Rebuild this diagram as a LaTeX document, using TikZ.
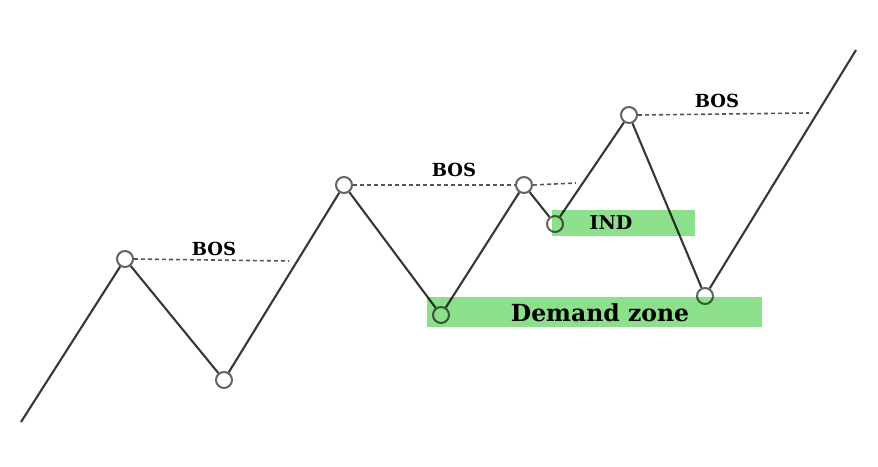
\documentclass[tikz,border=0pt]{standalone}
\usepackage{fontspec}
\setmainfont{DejaVu Serif}
\usetikzlibrary{positioning, calc}
\definecolor{legcolor}{RGB}{55, 55, 55}
\definecolor{pivotcolor}{RGB}{100, 100, 100}
\definecolor{boscolor}{RGB}{85, 85, 85}
\definecolor{zonecolor}{RGB}{140, 224, 140}

\begin{document}
\begin{tikzpicture}[
    x=1pt, y=-1pt,
    % Swing point
    pivot/.style={
        circle,
        draw=pivotcolor,
        line width=2pt,
        minimum size=16pt,
        inner sep=0pt
    },
    % Price leg
    leg/.style={
        draw=legcolor,
        line width=2.1pt
    },
    % Break of structure line
    bosline/.style={
        draw=boscolor,
        dash pattern=on 4pt off 3pt,
        line width=1.6pt
    },
    % Text over the lines
    boslabel/.style={
        font=\bfseries\fontsize{18}{18}\selectfont,
        inner sep=0pt
    },
    % Shaded zone
    zonebox/.style={
        rectangle,
        fill=zonecolor,
        draw=none,
        inner sep=0pt
    }
]

\useasboundingbox (0, 0) rectangle (878, 466);

% ============================================
% SWING POINTS
% ============================================

\coordinate (start) at (21, 422);
\node[pivot] (high1) at (125, 259) {};
\node[pivot] (low1) at (224, 380) {};
\node[pivot] (high2) at (344, 185) {};
\node[pivot] (low2) at (441, 315) {};
\node[pivot] (high3) at (524, 185) {};
\node[pivot] (low3) at (555, 224) {};
\node[pivot] (high4) at (629, 115) {};
\node[pivot] (low4) at (705, 296) {};
\coordinate (finish) at (856, 50);

% Price legs
\draw[leg] (start) -- (high1);
\draw[leg] (high1) -- (low1);
\draw[leg] (low1) -- (high2);
\draw[leg] (high2) -- (low2);
\draw[leg] (low2) -- (high3);
\draw[leg] (high3) -- (low3);
\draw[leg] (low3) -- (high4);
\draw[leg] (high4) -- (low4);
\draw[leg] (low4) -- (finish);

% ============================================
% BREAKS OF STRUCTURE
% ============================================

\coordinate (bosend1) at (289, 261);
\coordinate (bosend2) at (576, 183);
\coordinate (bosend3) at (809, 113);

\draw[bosline] (high1.east) -- (bosend1);
\draw[bosline] (high2.east) -- (high3.west);
\draw[bosline] (high3.east) -- (bosend2);
\draw[bosline] (high4.east) -- (bosend3);

\node[boslabel] (bos1) at (214, 249) {BOS};
\node[boslabel] (bos2) at (454, 170) {BOS};
\node[boslabel] (bos3) at (717, 101) {BOS};

% ============================================
% ZONES
% ============================================

\begin{scope}[blend mode=multiply]
    \node[zonebox, minimum width=335pt, minimum height=30pt] (demand) at (594.5, 312) {};
    \node[zonebox, minimum width=143pt, minimum height=26pt] (ind) at (623.5, 223) {};
\end{scope}

\node[font=\bfseries\fontsize{23.5}{23.5}\selectfont, inner sep=0pt] (demandtext) at (600, 313) {Demand zone};
\node[font=\bfseries\fontsize{19}{19}\selectfont, inner sep=0pt] (indtext) at (611, 223) {IND};

\end{tikzpicture}
\end{document}
